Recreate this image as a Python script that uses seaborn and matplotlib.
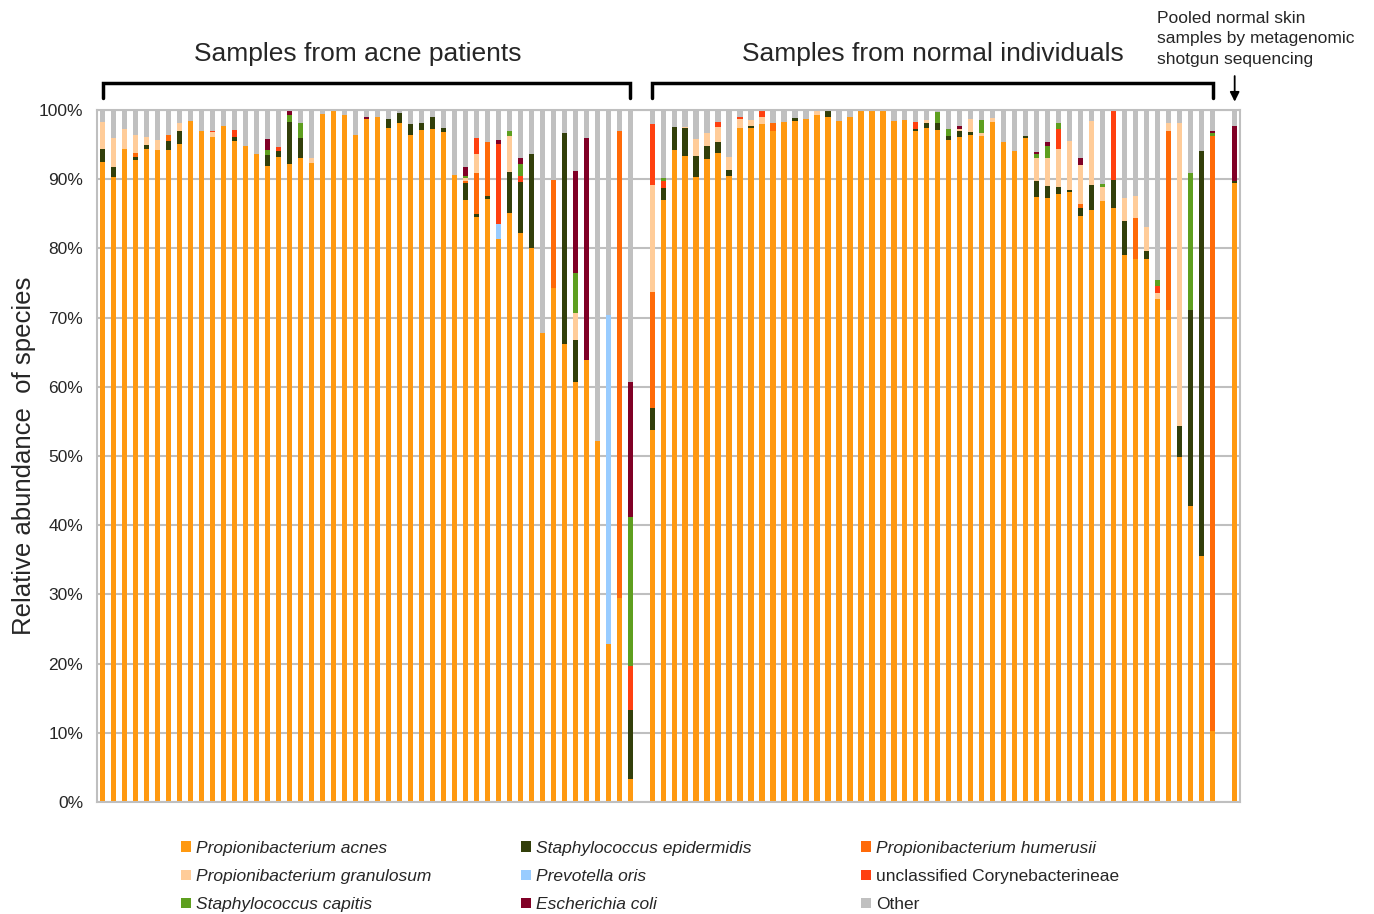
import numpy as np
import pandas as pd
import matplotlib
matplotlib.use("Agg")
import matplotlib.pyplot as plt
from matplotlib.patches import Patch
import seaborn as sns

# ---------------- DATA ----------------
species = ["Propionibacterium acnes", "Staphylococcus epidermidis", "Propionibacterium humerusii",
           "Propionibacterium granulosum", "Prevotella oris", "unclassified Corynebacterineae",
           "Staphylococcus capitis", "Escherichia coli", "Other"]
colors = ["#FF9910", "#323F0A", "#FF6A08", "#FFCC99", "#99CCFF", "#FF4010", "#5E9F1F", "#800026", "#C0C0C0"]

# relative abundance (%) per sample: 49 acne samples | 52 normal samples | 1 pooled sample
p_acnes = [92.5, 90.3, 94.3, 92.8, 94.4, 94.2, 94.2, 95.1, 98.4, 96.9,
           96.15, 97.7, 95.5, 94.85, 93.6, 91.9, 93.2, 92.2, 93.0, 92.4,
           99.4, 100, 99.2, 96.4, 98.7, 99.0, 97.4, 98.1, 96.4, 97.1,
           97.25, 96.8, 90.6, 87.0, 84.5, 87.2, 81.4, 85.1, 82.2, 80.1,
           67.7, 74.3, 66.2, 60.7, 63.9, 52.2, 22.9, 29.5, 3.3,
           53.8, 87.0, 94.2, 93.4, 90.3, 92.9, 93.8, 90.5, 97.4, 97.4,
           97.9, 96.9, 98.2, 98.4, 98.7, 99.2, 99.0, 98.4, 99.0, 100,
           100, 100, 98.4, 98.55, 96.9, 97.4, 97.1, 95.7, 96.15, 96.4,
           96.3, 98.2, 95.3, 94.0, 96.0, 87.4, 87.3, 87.9, 88.1, 84.7,
           85.6, 86.8, 85.8, 79.1, 78.5, 78.5, 72.7, 71.1, 49.9, 42.8,
           35.5, 10.2,
           89.5]
s_epidermidis = [1.8, 1.5, 0, 0.35, 0.5, 0, 1.3, 1.8, 0, 0,
                 0, 0, 0.6, 0, 0, 1.6, 0.8, 6.0, 3.0, 0,
                 0, 0, 0, 0, 0, 0, 1.3, 1.45, 1.5, 1.0,
                 1.8, 0.6, 0, 2.4, 0.45, 0.35, 0, 6.0, 7.4, 13.5,
                 0, 0, 30.4, 6.0, 0, 0, 0, 0, 10.0,
                 3.2, 1.7, 3.4, 3.95, 3.1, 1.9, 1.5, 0.8, 0, 0.3,
                 0, 0, 0, 0.5, 0, 0, 1.0, 0, 0, 0,
                 0, 0, 0, 0, 0.35, 0.75, 1.0, 0.6, 0.75, 0.35,
                 0, 0, 0, 0, 0.3, 2.3, 1.75, 0.9, 0.35, 1.1,
                 3.55, 0, 4.1, 4.85, 0, 1.05, 0, 0, 4.5, 28.3,
                 58.5, 0,
                 0.25]
p_humerusii = [0, 0, 0, 0.7, 0, 0, 0.9, 0, 0, 0,
               0, 0, 0, 0, 0, 0, 0, 0, 0, 0,
               0, 0, 0, 0, 0, 0, 0, 0, 0, 0,
               0, 0, 0, 0.35, 6.0, 7.75, 0, 0, 0, 0,
               0, 15.6, 0, 0, 0, 0, 0, 67.5, 0,
               16.65, 0, 0, 0, 0, 0, 0, 0, 0, 0,
               0, 1.15, 0, 0, 0, 0, 0, 0, 0, 0,
               0, 0, 0, 0, 0, 0, 0, 0, 0, 0,
               0, 0, 0, 0, 0, 0, 0, 0, 0, 0.65,
               0, 0, 0, 0, 5.9, 0, 0, 25.9, 0, 0,
               0, 86.1,
               0]
p_granulosum = [3.9, 4.2, 2.95, 2.55, 1.25, 1.4, 0, 1.15, 0, 0,
                0.6, 0, 0, 0, 0, 0, 0, 0, 0, 0.6,
                0, 0, 0, 0, 0, 0, 0, 0, 0, 0,
                0, 0, 0, 0.35, 2.65, 0, 0, 5.15, 0, 0,
                0, 0, 0, 4.0, 0, 0, 0, 0, 0,
                15.55, 0, 0, 0.25, 2.4, 1.8, 2.2, 1.9, 1.3, 0.85,
                1.1, 0, 0, 0, 0, 0.8, 0, 0, 0, 0,
                0, 0, 0, 0, 0, 0.4, 0, 0, 0.4, 1.9,
                0.4, 0.7, 0, 0, 0, 3.4, 4.05, 5.55, 7.1, 5.65,
                9.2, 2.05, 0, 3.3, 3.2, 3.6, 0.8, 1.1, 43.7, 0,
                0, 0,
                0]
p_oris = [0, 0, 0, 0, 0, 0, 0, 0, 0, 0,
          0, 0, 0, 0, 0, 0, 0, 0, 0, 0,
          0, 0, 0, 0, 0, 0, 0, 0, 0, 0,
          0, 0, 0, 0, 0, 0, 2.1, 0, 0, 0,
          0, 0, 0, 0, 0, 0, 47.5, 0, 0,
          0, 0, 0, 0, 0, 0, 0, 0, 0, 0,
          0, 0, 0, 0, 0, 0, 0, 0, 0, 0,
          0, 0, 0, 0, 0, 0, 0, 0, 0, 0,
          0, 0, 0, 0, 0, 0, 0, 0, 0, 0,
          0, 0, 0, 0, 0, 0, 0, 0, 0, 0,
          0, 0,
          0]
corynebacterineae = [0, 0, 0, 0, 0, 0, 0, 0, 0, 0,
                     0.2, 0, 1.0, 0, 0, 0, 0.7, 0, 0, 0,
                     0, 0, 0, 0, 0, 0, 0, 0, 0, 0,
                     0, 0, 0, 0, 2.4, 0, 11.65, 0, 0.8, 0,
                     0, 0, 0, 0, 0, 0, 0, 0, 6.4,
                     8.7, 1.0, 0, 0, 0, 0, 0.7, 0, 0.35, 0,
                     1.0, 0, 0, 0, 0, 0, 0, 0, 0, 0,
                     0, 0, 0, 0, 1.0, 0, 0, 0, 0, 0,
                     0, 0, 0, 0, 0, 0, 0, 2.9, 0, 0,
                     0, 0, 10.1, 0, 0, 0, 1.1, 0, 0, 0,
                     0, 0,
                     0]
s_capitis = [0, 0, 0, 0, 0, 0, 0, 0, 0, 0,
             0, 0, 0, 0, 0, 0.7, 0, 1.0, 2.05, 0,
             0, 0, 0, 0, 0, 0, 0, 0, 0, 0,
             0, 0, 0, 0.4, 0, 0, 0, 0.7, 1.8, 0,
             0, 0, 0, 5.7, 0, 0, 0, 0, 21.5,
             0, 0.45, 0, 0, 0, 0, 0, 0, 0, 0,
             0, 0, 0, 0, 0, 0, 0, 0, 0, 0,
             0, 0, 0, 0, 0, 0, 1.6, 1.0, 0, 0,
             1.9, 0, 0, 0, 0, 0.5, 1.65, 0.8, 0, 0,
             0, 0.5, 0, 0, 0, 0, 0.8, 0, 0, 19.75,
             0, 0.35,
             0]
e_coli = [0, 0, 0, 0, 0, 0, 0, 0, 0, 0,
          0, 0, 0, 0, 0, 1.55, 0, 0.8, 0, 0,
          0, 0, 0, 0, 0.35, 0, 0, 0, 0, 0,
          0, 0, 0, 1.3, 0, 0, 0.45, 0, 0.8, 0,
          0, 0, 0, 14.8, 32.1, 0, 0, 0, 19.5,
          0, 0, 0, 0, 0, 0, 0, 0, 0, 0,
          0, 0, 0, 0, 0, 0, 0, 0, 0, 0,
          0, 0, 0, 0, 0, 0, 0, 0, 0.45, 0,
          0, 0, 0, 0, 0, 0.35, 0.6, 0, 0, 0.95,
          0, 0, 0, 0, 0, 0, 0, 0, 0, 0,
          0, 0.35,
          8.0]
other = [1.8, 4.0, 2.75, 3.6, 3.85, 4.4, 3.6, 1.95, 1.6, 3.1,
         3.05, 2.3, 2.9, 5.15, 6.4, 4.25, 5.3, 0, 1.95, 7.0,
         0.6, 0, 0.8, 3.6, 0.95, 1.0, 1.3, 0.45, 2.1, 1.9,
         0.95, 2.6, 9.4, 8.2, 4.0, 4.7, 4.4, 3.05, 7.0, 6.4,
         32.3, 10.1, 3.4, 8.8, 4.0, 47.8, 29.6, 3.0, 39.3,
         2.1, 9.85, 2.4, 2.4, 4.2, 3.4, 1.8, 6.8, 0.95, 1.45,
         0, 1.95, 1.8, 1.1, 1.3, 0, 0, 1.6, 1.0, 0,
         0, 0, 1.6, 1.45, 1.75, 1.45, 0.3, 2.7, 2.25, 1.35,
         1.4, 1.1, 4.7, 6.0, 3.7, 6.05, 4.65, 1.95, 4.45, 6.95,
         1.65, 10.65, 0, 12.75, 12.4, 16.85, 24.6, 1.9, 1.9, 9.15,
         6.0, 3.0,
         2.25]

n_acne, n_normal, n_pooled = 49, 52, 1

# ---------------- TABLE ----------------
df = pd.DataFrame(dict(zip(species, [p_acnes, s_epidermidis, p_humerusii, p_granulosum, p_oris,
                                      corynebacterineae, s_capitis, e_coli, other])))
df["group"] = ["acne"] * n_acne + ["normal"] * n_normal + ["pooled"] * n_pooled
# one empty slot between the groups
df["pos"] = np.concatenate([np.arange(n_acne),
                            np.arange(n_normal) + n_acne + 1,
                            np.arange(n_pooled) + n_acne + n_normal + 2])
cum = df[species].cumsum(axis=1)

# ---------------- PLOT ----------------
sns.set_theme(style="white")
plt.rcParams["font.family"] = ["Liberation Sans", "DejaVu Sans"]

fig = plt.figure(figsize=(13.74, 9.14), dpi=100)
ax = fig.add_axes([0.0706, 0.1225, 0.832, 0.7572])

# stacked bars: draw cumulative totals from the top layer down
for sp, c in zip(species[::-1], colors[::-1]):
    sns.barplot(x=df["pos"], y=cum[sp], native_scale=True, orient="x", width=0.47,
                color=c, saturation=1, linewidth=0, errorbar=None, ax=ax)

ax.set_xlim(-0.5, 103.5)
ax.set_ylim(0, 100)
ax.set_xticks([])
ax.set_xlabel("")
ax.set_yticks(range(0, 101, 10))
ax.set_yticklabels([f"{v}%" for v in range(0, 101, 10)], fontsize=12.5)
ax.tick_params(axis="y", length=0, pad=10)
ax.set_ylabel("Relative abundance  of species", fontsize=18.5, labelpad=2)
ax.set_axisbelow(True)
ax.yaxis.grid(True, color="#BFBFBF", lw=1.5)
for s in ax.spines.values():
    s.set_visible(True)
    s.set_color("#BFBFBF")
    s.set_linewidth(1.5)

# brackets and group titles
tr = ax.get_xaxis_transform()
acne_end = n_acne - 1
norm_start, norm_end = n_acne + 1, n_acne + n_normal
for x0, x1 in [(0, acne_end), (norm_start, norm_end)]:
    ax.plot([x0, x0, x1, x1], [1.017, 1.039, 1.039, 1.017], color="black", lw=2.5,
            transform=tr, clip_on=False, solid_joinstyle="miter")
ax.text(23.2, 1.081, "Samples from acne patients", transform=tr, ha="center", va="center", fontsize=19)
ax.text(75.5, 1.081, "Samples from normal individuals", transform=tr, ha="center", va="center", fontsize=19)

pooled_x = n_acne + n_normal + 2
ax.text(95.9, 1.143, "Pooled normal skin\nsamples by metagenomic\nshotgun sequencing", transform=tr,
        ha="left", va="top", fontsize=12.5, linespacing=1.45)
ax.annotate("", xy=(pooled_x, 1.008), xytext=(pooled_x, 1.053), xycoords=tr, textcoords=tr,
            arrowprops=dict(arrowstyle="-|>", color="black", lw=1.3, mutation_scale=14))

# legend: three columns, filled row-wise like the original
handles = [Patch(facecolor=c, edgecolor="none") for c in colors]
col_x = [0.1317, 0.3792, 0.6266]
for k in range(3):
    idx = [k, k + 3, k + 6]
    leg = fig.legend([handles[i] for i in idx], [species[i] for i in idx], loc="upper left",
                     bbox_to_anchor=(col_x[k], 0.0799), frameon=False, borderpad=0, borderaxespad=0,
                     handlelength=0.57, handleheight=0.57, handletextpad=0.3, labelspacing=0.75,
                     prop={"size": 12.5, "style": "italic"})
    for t in leg.get_texts():
        if t.get_text() in ("unclassified Corynebacterineae", "Other"):
            t.set_fontstyle("normal")

fig.savefig("out.png", dpi=100)
